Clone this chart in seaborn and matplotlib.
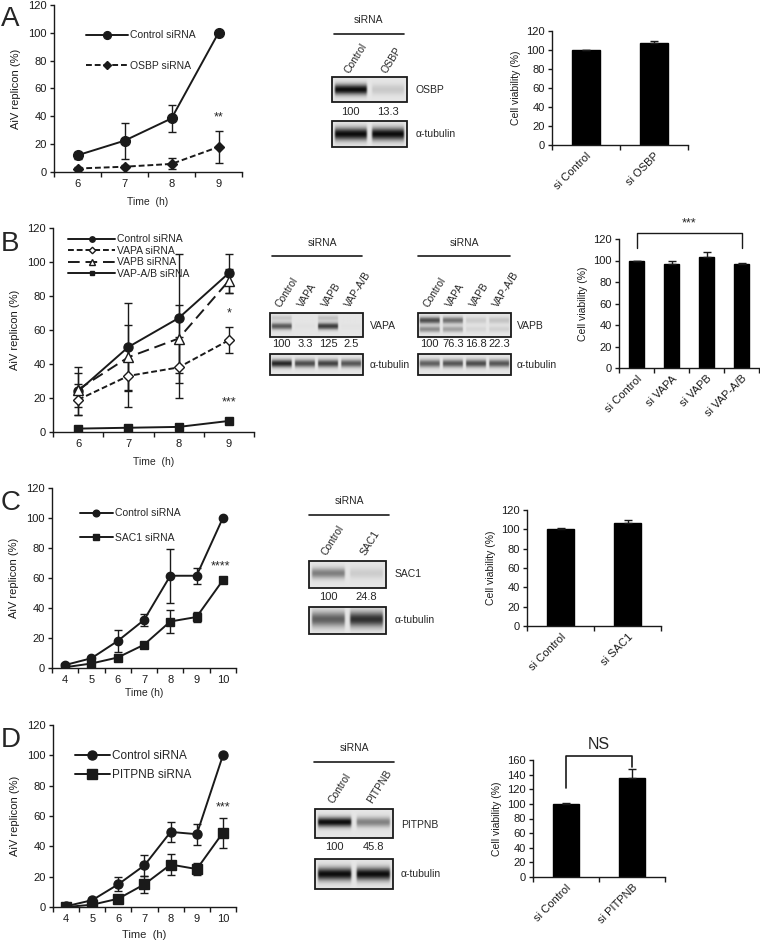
import numpy as np
import matplotlib
matplotlib.use("Agg")
import matplotlib.pyplot as plt
import seaborn as sns
from matplotlib.patches import Rectangle

sns.set_theme(style="ticks")
plt.rcParams['font.family'] = ['Liberation Sans', 'DejaVu Sans']

# ---------------- data ----------------
# Panel A
a_time = [6, 7, 8, 9]
a_ctrl = [12, 22.5, 38.5, 100]
a_ctrl_err = [2.5, 13, 10, 0]
a_osbp = [2.5, 3.8, 5.8, 18]
a_osbp_err = [1, 1, 4, 11.5]
a_bar_cats = ["si Control", "si OSBP"]
a_bar_vals = [100, 107]
a_bar_err = [0, 3]
a_blot_lanes = ["Control", "OSBP"]
a_blot_levels = [100, 13.3]
a_tub_levels = [100, 100]

# Panel B
b_time = [6, 7, 8, 9]
b_ctrl = [24, 50, 67, 93.5]
b_ctrl_err = [14, 26, 38, 11.5]
b_vapa = [19, 33, 38, 54]
b_vapa_err = [9, 18, 18, 7.5]
b_vapb = [25, 44, 55, 89]
b_vapb_err = [10, 19, 20, 7]
b_vapab = [2, 2.5, 3, 6.5]
b_vapab_err = [0.5, 0.5, 0.5, 1]
b_bar_cats = ["si Control", "si VAPA", "si VAPB", "si VAP-A/B"]
b_bar_vals = [100, 96.5, 103, 96.5]
b_bar_err = [0, 3, 5, 1]
b_blot_lanes = ["Control", "VAPA", "VAPB", "VAP-A/B"]
b_vapa_levels = [100, 3.3, 125, 2.5]
b_vapb_levels = [100, 76.3, 16.8, 22.3]
b_tub1_levels = [100, 80, 85, 75]
b_tub2_levels = [70, 75, 80, 75]

# Panel C
c_time = [4, 5, 6, 7, 8, 9, 10]
c_ctrl = [2, 6.5, 18, 32, 61.5, 61.5, 100]
c_ctrl_err = [0.5, 1, 7.5, 4, 18, 5.5, 0]
c_sac1 = [0.5, 3, 7, 15.5, 31, 34, 58.5]
c_sac1_err = [0.3, 0.5, 0.5, 1, 7.5, 3.5, 1]
c_bar_cats = ["si Control", "si SAC1"]
c_bar_vals = [100, 106.5]
c_bar_err = [1, 3]
c_blot_lanes = ["Control", "SAC1"]
c_blot_levels = [100, 24.8]
c_tub_levels = [70, 95]

# Panel D
d_time = [4, 5, 6, 7, 8, 9, 10]
d_ctrl = [0.5, 4.5, 15, 27.5, 49.5, 48, 100]
d_ctrl_err = [0.3, 1, 4.5, 7, 6.5, 7, 0]
d_pit = [0, 1.5, 5.5, 15, 28, 25, 49]
d_pit_err = [0.3, 0.5, 1, 5.5, 7, 4, 10]
d_bar_cats = ["si Control", "si PITPNB"]
d_bar_vals = [100, 135.5]
d_bar_err = [1, 12]
d_blot_lanes = ["Control", "PITPNB"]
d_blot_levels = [100, 45.8]
d_tub_levels = [100, 100]

# ---------------- figure ----------------
W, H = 760, 944
fig = plt.figure(figsize=(W / 100, H / 100), dpi=100)
TFS = 8      # tick labels
LFS = 8      # axis labels
GFS = 7.5    # legend
BFS = 7.5    # blot text


def px_axes(left, top, right, bottom):
    return fig.add_axes([left / W, 1 - bottom / H, (right - left) / W, (bottom - top) / H])


def style_axes(ax, xlim, cats_pos, ylim, yticks):
    sns.despine(ax=ax)
    for s in ("left", "bottom"):
        ax.spines[s].set_linewidth(1.0)
        ax.spines[s].set_color("k")
    ax.set_xlim(*xlim)
    ax.set_ylim(*ylim)
    ax.set_yticks(yticks)
    ax.set_xticks(cats_pos)
    minors = [p - 0.5 for p in cats_pos] + [cats_pos[-1] + 0.5]
    ax.set_xticks(minors, minor=True)
    ax.tick_params(axis="x", which="major", length=0, labelsize=TFS, pad=5, colors="k")
    ax.tick_params(axis="x", which="minor", length=3.5, width=1, direction="out", colors="k")
    ax.tick_params(axis="y", which="major", length=3, width=1, direction="out", labelsize=TFS, pad=2, colors="k")
    ax.set_facecolor("none")


def series(ax, x, y, err, marker, ls, ms, mfc="k", label=None):
    ax.errorbar(x, y, yerr=err, fmt="none", ecolor="k", elinewidth=1, capsize=3, capthick=1, zorder=2)
    sns.lineplot(x=x, y=y, ax=ax, color="k", marker=marker, linestyle=ls, markersize=ms,
                 markerfacecolor=mfc, markeredgecolor="k", markeredgewidth=1, linewidth=1.4,
                 label=label, zorder=3)


def line_panel(ax, xvals):
    style_axes(ax, (xvals[0] - 0.5, xvals[-1] + 0.5), xvals, (0, 120), range(0, 121, 20))
    ax.set_ylabel("AiV replicon (%)", fontsize=LFS, labelpad=5, color="k")


def bar_panel(ax, cats, vals, errs, ymax, width):
    sns.barplot(x=cats, y=vals, color="black", width=width, ax=ax, errorbar=None,
                saturation=1, edgecolor="black")
    ax.errorbar(range(len(cats)), vals, yerr=[[0] * len(errs), errs], fmt="none", ecolor="k",
                elinewidth=1, capsize=3, capthick=1)
    style_axes(ax, (-0.5, len(cats) - 0.5), list(range(len(cats))), (0, ymax), range(0, ymax + 1, 20))
    ax.set_xticks(range(len(cats)))
    ax.set_xticklabels(cats, rotation=45, ha="right", rotation_mode="anchor", fontsize=TFS)
    ax.tick_params(axis="x", which="major", pad=4)
    ax.set_ylabel("Cell viability (%)", fontsize=LFS - 0.5, labelpad=4, color="k")


# ---- A line ----
axA = px_axes(54, 5, 242, 172)
line_panel(axA, a_time)
series(axA, a_time, a_ctrl, a_ctrl_err, "o", "-", 7, label="Control siRNA")
series(axA, a_time, a_osbp, a_osbp_err, "D", (0, (3, 1.5)), 5, label="OSBP siRNA")
axA.set_xlabel("Time  (h)", fontsize=LFS - 0.5, labelpad=6)
axA.text(9, 35, "**", ha="center", va="bottom", fontsize=TFS + 1)
axA.legend(loc="upper left", bbox_to_anchor=(0.12, 0.905), frameon=False, fontsize=GFS,
           handlelength=4, labelspacing=2.0, handletextpad=0.2, markerscale=0.8)

# ---- B line ----
axB = px_axes(53, 228, 254, 432)
line_panel(axB, b_time)
series(axB, b_time, b_ctrl, b_ctrl_err, "o", "-", 6.5, label="Control siRNA")
series(axB, b_time, b_vapa, b_vapa_err, "D", (0, (3, 1.5)), 5.5, mfc="white", label="VAPA siRNA")
series(axB, b_time, b_vapb, b_vapb_err, "^", (0, (6, 3)), 7, mfc="white", label="VAPB siRNA")
series(axB, b_time, b_vapab, b_vapab_err, "s", "-", 5.5, label="VAP-A/B siRNA")
axB.set_xlabel("Time  (h)", fontsize=LFS - 0.5, labelpad=6)
axB.text(9, 66, "*", ha="center", va="bottom", fontsize=TFS + 1)
axB.text(9, 14, "***", ha="center", va="bottom", fontsize=TFS + 1)
axB.legend(loc="upper left", bbox_to_anchor=(0.03, 1.015), frameon=False, fontsize=GFS,
           handlelength=4.5, labelspacing=0.15, handletextpad=0.2, markerscale=0.6)

# ---- C line ----
axC = px_axes(52, 488, 236, 668)
line_panel(axC, c_time)
series(axC, c_time, c_ctrl, c_ctrl_err, "o", "-", 6, label="Control siRNA")
series(axC, c_time, c_sac1, c_sac1_err, "s", "-", 6, label="SAC1 siRNA")
axC.set_xlabel("Time (h)", fontsize=LFS - 0.5, labelpad=2)
axC.text(9.9, 64, "****", ha="center", va="bottom", fontsize=TFS + 1)
axC.legend(loc="upper left", bbox_to_anchor=(0.1, 0.94), frameon=False, fontsize=GFS,
           handlelength=3.2, labelspacing=1.4, handletextpad=0.2, markerscale=0.8)

# ---- D line ----
axD = px_axes(53, 725, 236, 907)
line_panel(axD, d_time)
series(axD, d_time, d_ctrl, d_ctrl_err, "o", "-", 6.5, label="Control siRNA")
series(axD, d_time, d_pit, d_pit_err, "s", "-", 6.5, label="PITPNB siRNA")
axD.set_xlabel("Time  (h)", fontsize=LFS, labelpad=4)
axD.text(10, 62, "***", ha="center", va="bottom", fontsize=TFS + 1)
axD.legend(loc="upper left", bbox_to_anchor=(0.06, 0.92), frameon=False, fontsize=GFS + 1,
           handlelength=3, labelspacing=0.6, handletextpad=0.2, markerscale=1.0)

# ---- bars ----
bA = px_axes(552, 31, 688, 145)
bar_panel(bA, a_bar_cats, a_bar_vals, a_bar_err, 120, 0.4)

bB = px_axes(619, 239, 759, 368)
bar_panel(bB, b_bar_cats, b_bar_vals, b_bar_err, 120, 0.43)
bB.plot([0, 0, 3, 3], [112, 126, 126, 112], color="k", lw=1, clip_on=False)
bB.text(1.5, 129, "***", ha="center", va="bottom", fontsize=TFS + 1)

bC = px_axes(527, 510, 661, 626)
bar_panel(bC, c_bar_cats, c_bar_vals, c_bar_err, 120, 0.4)

bD = px_axes(533, 760, 665, 877)
bar_panel(bD, d_bar_cats, d_bar_vals, d_bar_err, 160, 0.4)
bD.plot([0, 0, 1, 1], [122, 165, 165, 150], color="k", lw=1.2, clip_on=False)
bD.text(0.5, 171, "NS", ha="center", va="bottom", fontsize=11.5)

# ---- panel letters & blots overlay ----
ov = fig.add_axes([0, 0, 1, 1])
ov.set_xlim(0, W)
ov.set_ylim(H, 0)
ov.axis("off")
for letter, yb in (("A", 26), ("B", 251), ("C", 510), ("D", 747)):
    ov.text(1, yb, letter, fontsize=20, va="baseline", ha="left")


def band_image(levels, rows, ref=100.0):
    n = len(levels)
    h, w = 40, 60 * n
    yy = np.linspace(0, 1, h)[:, None]
    xx = np.linspace(0, 1, w)[None, :]
    img = np.full((h, w), 0.9)
    for yc, sig, scale in rows:
        for i, lv in enumerate(levels):
            c = (i + 0.5) / n
            half = 0.43 / n
            xp = 1 / (1 + np.exp(-(xx - (c - half)) * 80 * n)) * 1 / (1 + np.exp((xx - (c + half)) * 80 * n))
            inten = min(lv / ref, 1.2) * scale
            img -= inten * np.exp(-((yy - yc) ** 2) / (2 * sig ** 2)) * xp
    return np.clip(img, 0, 1)


def blot_box(x0, y0, x1, y1, img):
    ov.imshow(img, extent=(x0, x1, y1, y0), cmap="gray", vmin=0, vmax=1, aspect="auto",
              interpolation="bilinear", zorder=1)
    ov.add_patch(Rectangle((x0, y0), x1 - x0, y1 - y0, fill=False, lw=1.3, ec="k", zorder=2))


def blot_header(xc, x0, x1, yt, yl, lanes, lane_x, ylab):
    ov.text(xc, yt, "siRNA", ha="center", va="center", fontsize=BFS)
    ov.plot([x0, x1], [yl, yl], color="k", lw=1.2)
    for name, lx in zip(lanes, lane_x):
        ov.text(lx - 4, ylab, name, rotation=58, rotation_mode="anchor", ha="left",
                va="center", fontsize=BFS)


def lane_centers(x0, x1, n):
    return [x0 + (x1 - x0) * (i + 0.5) / n for i in range(n)]


# A blot
lx = lane_centers(332, 407, 2)
blot_header(368, 334, 404, 20, 34, a_blot_lanes, lx, 72)
blot_box(332, 77, 407, 102, band_image(a_blot_levels, [(0.5, 0.15, 0.85)]))
for v, x in zip(a_blot_levels, lx):
    ov.text(x, 112, f"{v:g}", ha="center", va="center", fontsize=BFS + 0.5)
blot_box(332, 121, 407, 147, band_image(a_tub_levels, [(0.5, 0.17, 0.85)]))
ov.text(416, 90, "OSBP", va="center", fontsize=BFS)
ov.text(416, 134, "α-tubulin", va="center", fontsize=BFS)

# B blots
lx = lane_centers(270, 363, 4)
blot_header(322, 272, 362, 243, 256, b_blot_lanes, lx, 306)
blot_box(270, 313, 363, 337, band_image(b_vapa_levels, [(0.2, 0.08, 0.12), (0.55, 0.1, 0.55)]))
for v, x in zip(b_vapa_levels, lx):
    ov.text(x, 344, f"{v:g}", ha="center", va="center", fontsize=BFS + 0.5)
blot_box(270, 354, 363, 375, band_image(b_tub1_levels, [(0.45, 0.13, 0.75)]))
ov.text(370, 326, "VAPA", va="center", fontsize=BFS)
ov.text(370, 365, "α-tubulin", va="center", fontsize=BFS)

lx = lane_centers(418, 511, 4)
blot_header(464, 418, 510, 243, 256, b_blot_lanes, lx, 306)
blot_box(418, 313, 511, 337, band_image(b_vapb_levels, [(0.3, 0.1, 0.6), (0.68, 0.09, 0.35)]))
for v, x in zip(b_vapb_levels, lx):
    ov.text(x, 344, f"{v:g}", ha="center", va="center", fontsize=BFS + 0.5)
blot_box(418, 354, 511, 375, band_image(b_tub2_levels, [(0.45, 0.13, 0.75)]))
ov.text(517, 326, "VAPB", va="center", fontsize=BFS)
ov.text(517, 365, "α-tubulin", va="center", fontsize=BFS)

# C blot
lx = lane_centers(309, 386, 2)
blot_header(349, 309, 389, 501, 515, c_blot_lanes, lx, 554)
blot_box(309, 561, 386, 588, band_image(c_blot_levels, [(0.45, 0.14, 0.4)]))
for v, x in zip(c_blot_levels, lx):
    ov.text(x, 597, f"{v:g}", ha="center", va="center", fontsize=BFS + 0.5)
blot_box(309, 607, 386, 634, band_image(c_tub_levels, [(0.45, 0.2, 0.75)]))
ov.text(395, 574, "SAC1", va="center", fontsize=BFS)
ov.text(395, 620, "α-tubulin", va="center", fontsize=BFS)

# D blot
lx = lane_centers(315, 393, 2)
blot_header(354, 314, 394, 748, 762, d_blot_lanes, lx, 802)
blot_box(315, 809, 393, 838, band_image(d_blot_levels, [(0.45, 0.12, 0.85)]))
for v, x in zip(d_blot_levels, lx):
    ov.text(x, 847, f"{v:g}", ha="center", va="center", fontsize=BFS + 0.5)
blot_box(315, 859, 393, 889, band_image(d_tub_levels, [(0.5, 0.15, 0.85)]))
ov.text(401, 825, "PITPNB", va="center", fontsize=BFS)
ov.text(401, 874, "α-tubulin", va="center", fontsize=BFS)

fig.savefig("out.png", dpi=100, facecolor="white")
